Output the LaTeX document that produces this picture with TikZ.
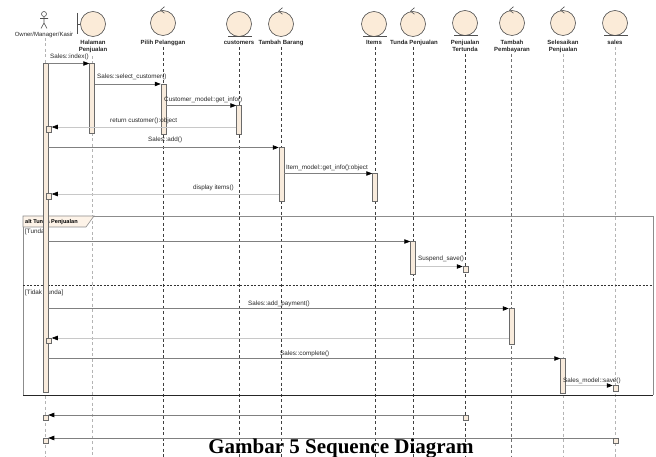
\documentclass[tikz,border=0pt]{standalone}
\usepackage{fontspec}
\setmainfont{Liberation Sans}
\newfontfamily\capfont{Liberation Serif}
\usetikzlibrary{arrows.meta,calc}
\definecolor{headfill}{HTML}{FBEBD8}
\definecolor{barfill}{HTML}{F8EBDC}
\definecolor{headline}{HTML}{505050}
\definecolor{msgline}{HTML}{808080}
\definecolor{retline}{HTML}{C8C8C8}
\definecolor{lifedark}{HTML}{404040}
\definecolor{lifemid}{HTML}{707070}
\definecolor{lifelight}{HTML}{B4B4B4}
\definecolor{framecol}{HTML}{8C8C8C}
\tikzset{
 headc/.style={circle, draw=headline, fill=headfill, line width=0.6pt, minimum size=25pt, inner sep=0},
 hline/.style={draw=headline, line width=0.6pt},
 hlabel/.style={font=\bfseries\fontsize{6}{7}\selectfont, align=center, anchor=north, inner sep=0, text=black!85},
 lifed/.style={draw=lifedark, dash pattern=on 3pt off 2.5pt, line width=0.5pt},
 lifem/.style={draw=lifemid, dash pattern=on 3pt off 2.5pt, line width=0.5pt},
 lifel/.style={draw=lifelight, dash pattern=on 3pt off 2.5pt, line width=0.5pt},
 actbar/.style={rectangle, draw=headline!85, fill=barfill, minimum width=5pt, inner sep=0, line width=0.5pt, anchor=north},
 exbox/.style={rectangle, draw=headline!85, fill=barfill, minimum width=5pt, minimum height=5.5pt, inner sep=0, line width=0.5pt, anchor=north},
 msg/.style={draw=msgline, line width=0.6pt, -{Triangle[length=6pt,width=4.5pt,color=black]}},
 ret/.style={draw=retline, line width=0.6pt, -{Triangle[length=6pt,width=4.5pt,color=black]}},
 mlabel/.style={font=\fontsize{6.3}{7}\selectfont, inner sep=0, anchor=base west, text=black!85},
 glabel/.style={font=\fontsize{6.3}{7}\selectfont, inner sep=0, anchor=base west, text=black!85},
}
\newcommand{\ctrlmark}[1]{\draw[hline] ($(#1.north)+(1.5,-3.5)$) -- ($(#1.north)+(-2.5,0)$) -- ($(#1.north)+(1.5,3)$);}
\begin{document}
\begin{tikzpicture}[x=1pt,y=-1pt]
\useasboundingbox (0,0) rectangle (656,457);
\coordinate (bot) at (0,457);
% ---------- heads ----------
% actor
\node[circle, draw=headline, line width=0.6pt, minimum size=5pt, inner sep=0] (acthead) at (44,14) {};
\draw[hline] (acthead.south) -- (44,23) (40,18.5) -- (48,18.5) (41,28.5) -- (44,23) -- (47,28.5);
\node[font=\fontsize{6}{7}\selectfont, anchor=north, inner sep=0, text=black!85] (actlab) at (44,31.5) {Owner/Manager/Kasir};
% boundary
\node[headc] (hal) at (93,24) {};
\draw[hline] (77,13) -- (77,34) (77,24) -- (hal.west);
\node[hlabel] (hallab) at (93,40) {Halaman\\Penjualan};
% controls
\node[headc] (pil) at (163,23) {}; \ctrlmark{pil}
\node[hlabel] (pillab) at (163,39.5) {Pilih Pelanggan};
\node[headc] (tam) at (281,24) {}; \ctrlmark{tam}
\node[hlabel] (tamlab) at (281,40) {Tambah Barang};
\node[headc] (tun) at (413,24) {}; \ctrlmark{tun}
\node[hlabel] (tunlab) at (414,40) {Tunda Penjualan};
\node[headc] (pem) at (512,23) {}; \ctrlmark{pem}
\node[hlabel] (pemlab) at (512,39.5) {Tambah\\Pembayaran};
\node[headc] (sel) at (563,23) {}; \ctrlmark{sel}
\node[hlabel] (sellab) at (563,39.5) {Selesaikan\\Penjualan};
% entities
\node[headc] (cus) at (239,24) {}; \draw[hline] ($(cus.south)+(-11,0)$) -- ($(cus.south)+(13,0)$);
\node[hlabel] (cuslab) at (239,40) {customers};
\node[headc] (itm) at (374,24) {}; \draw[hline] ($(itm.south)+(-11,0)$) -- ($(itm.south)+(13,0)$);
\node[hlabel] (itmlab) at (374,40) {Items};
\node[headc] (ptd) at (465,23) {}; \draw[hline] ($(ptd.south)+(-11,0)$) -- ($(ptd.south)+(13,0)$);
\node[hlabel] (ptdlab) at (465,39.5) {Penjualan\\Tertunda};
\node[headc] (sal) at (615,23) {}; \draw[hline] ($(sal.south)+(-11,0)$) -- ($(sal.south)+(13,0)$);
\node[hlabel] (sallab) at (615,39.5) {sales};
% ---------- lifelines ----------
\draw[lifel] (45.5,38) -- (45.5,457);
\draw[lifel] (92,56) -- (92,457);
\draw[lifed] (163.5,47) -- (163.5,457);
\draw[lifed] (239,47) -- (239,457);
\draw[lifed] (281.5,47) -- (281.5,457);
\draw[lifed] (375,47) -- (375,457);
\draw[lifed] (413,47) -- (413,457);
\draw[lifed] (465.5,54) -- (465.5,457);
\draw[lifem] (511.5,54) -- (511.5,457);
\draw[lifel] (563,54) -- (563,457);
\draw[lifel] (615.5,47) -- (615.5,457);
% ---------- alt frame ----------
\draw[framecol, line width=0.8pt] (23,395) -- (23,216) -- (653,216) -- (653,395);
\draw[black!85, line width=0.8pt] (23,395) -- (653,395);
\draw[black!80, line width=0.5pt, dash pattern=on 2pt off 1.5pt] (23,285) -- (653,285);
\draw[framecol, line width=0.6pt, fill=headfill!60] (23,216) -- (94,216) -- (86,227) -- (23,227) -- cycle;
\node[font=\bfseries\fontsize{5.6}{7}\selectfont, anchor=base west, inner sep=0] (altlab) at (25,223.5) {alt Tunda Penjualan};
\node[glabel] (g1) at (25,234) {[Tunda]};
\node[glabel] (g2) at (25,294) {[Tidak Tunda]};
% ---------- activation bars ----------
\node[actbar, minimum height=329pt] (bA) at (45.5,63) {};
\node[actbar, minimum height=70pt] (bH) at (92,63) {};
\node[actbar, minimum height=50pt] (bP) at (163.5,84) {};
\node[actbar, minimum height=29pt] (bC) at (239,105) {};
\node[actbar, minimum height=54pt] (bT) at (281.5,147) {};
\node[actbar, minimum height=28pt] (bI) at (375,173) {};
\node[actbar, minimum height=33pt] (bTP) at (413,241) {};
\node[exbox] (xPT) at (465.5,266) {};
\node[actbar, minimum height=36pt] (bPB) at (511.5,308) {};
\node[actbar, minimum height=35pt] (bS) at (563,358) {};
\node[exbox] (xSA) at (615.5,385) {};
\node[exbox] (xA1) at (49,126.5) {};
\node[exbox] (xA2) at (49,193.5) {};
\node[exbox] (xA3) at (49,337.5) {};
\node[exbox] (xA4) at (45.5,414.5) {};
\node[exbox] (xPT2) at (465.5,414.5) {};
\node[exbox] (xA5) at (45.5,437.5) {};
\node[exbox] (xSA2) at (615.5,437.5) {};
% ---------- messages ----------
\draw[msg] (bA.east |- 0,63.5) -- (bH.west |- 0,63.5);
\node[mlabel] (l1) at (50,58.5) {Sales::index()};
\draw[msg] (bH.east |- 0,84) -- (bP.west |- 0,84);
\node[mlabel] (l2) at (97,78.5) {Sales::select\_customer()};
\draw[msg] (bP.east |- 0,105.5) -- (bC.west |- 0,105.5);
\node[mlabel] (l3) at (164,102) {Customer\_model::get\_info()};
\draw[ret] (bC.west |- 0,127) -- (xA1.east |- 0,127);
\node[mlabel] (l4) at (110,123) {return customer():object};
\draw[msg] (bA.east |- 0,147.5) -- (bT.west |- 0,147.5);
\node[mlabel] (l5) at (148,141.5) {Sales::add()};
\draw[msg] (bT.east |- 0,173.5) -- (bI.west |- 0,173.5);
\node[mlabel] (l6) at (286,170) {Item\_model::get\_info():object};
\draw[ret] (bT.west |- 0,194) -- (xA2.east |- 0,194);
\node[mlabel] (l7) at (193,190) {display items()};
\draw[msg] (bA.east |- 0,241.5) -- (bTP.west |- 0,241.5);
\draw[ret] (bTP.east |- 0,266.5) -- (xPT.west |- 0,266.5);
\node[mlabel] (l9) at (418,260.5) {Suspend\_save()};
\draw[msg] (bA.east |- 0,308.5) -- (bPB.west |- 0,308.5);
\node[mlabel] (l10) at (248,305) {Sales::add\_payment()};
\draw[ret] (bPB.west |- 0,338) -- (xA3.east |- 0,338);
\draw[msg] (bA.east |- 0,358.5) -- (bS.west |- 0,358.5);
\node[mlabel] (l12) at (280,355) {Sales::complete()};
\draw[ret] (bS.east |- 0,385.5) -- (xSA.west |- 0,385.5);
\node[mlabel] (l13) at (563,382) {Sales\_model::save()};
\draw[msg] (xPT2.west |- 0,415) -- (xA4.east |- 0,415);
\draw[msg] (xSA2.west |- 0,438) -- (xA5.east |- 0,438);
% ---------- caption ----------
\node[font=\capfont\bfseries\fontsize{21}{24}\selectfont, anchor=base, inner sep=0] (cap) at (341,453) {Gambar 5 Sequence Diagram};
\end{tikzpicture}
\end{document}
